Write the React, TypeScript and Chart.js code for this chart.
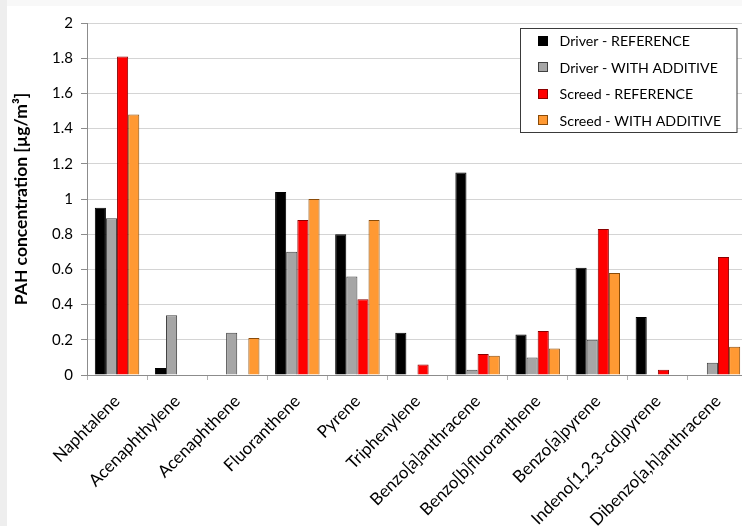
import React, { useEffect, useRef } from 'react';
import { Chart, registerables } from 'chart.js';

Chart.register(...registerables);

const categories = [
  'Naphtalene',
  'Acenaphthylene',
  'Acenaphthene',
  'Fluoranthene',
  'Pyrene',
  'Triphenylene',
  'Benzo[a]anthracene',
  'Benzo[b]fluoranthene',
  'Benzo[a]pyrene',
  'Indeno[1,2,3-cd]pyrene',
  'Dibenzo[a,h]anthracene',
];

const driverReference = [0.95, 0.04, 0, 1.04, 0.8, 0.24, 1.15, 0.23, 0.61, 0.33, 0];
const driverWithAdditive = [0.89, 0.34, 0.24, 0.7, 0.56, 0, 0.03, 0.1, 0.2, 0, 0.07];
const screedReference = [1.81, 0, 0, 0.88, 0.43, 0.06, 0.12, 0.25, 0.83, 0.03, 0.67];
const screedWithAdditive = [1.48, 0, 0.21, 1.0, 0.88, 0, 0.11, 0.15, 0.58, 0, 0.16];

const seriesLabels = [
  'Driver - REFERENCE',
  'Driver - WITH ADDITIVE',
  'Screed - REFERENCE',
  'Screed - WITH ADDITIVE',
];

const yTickValues = [0, 0.2, 0.4, 0.6, 0.8, 1, 1.2, 1.4, 1.6, 1.8, 2];
const yTickLabels = ['0', '0.2', '0.4', '0.6', '0.8', '1', '1.2', '1.4', '1.6', '1.8', '2'];
const yAxisTitle = 'PAH concentration [µg/m³]';

const FONT = 'Lato';
const FILLS = ['#000000', '#a6a6a6', '#ff0000', '#ff9933'];
const BORDERS = ['#000000', '#404040', '#8b0000', '#8a4b08'];

const CANVAS_W = 760;
const CANVAS_H = 540;

export default function App() {
  const canvasRef = useRef<HTMLCanvasElement | null>(null);

  useEffect(() => {
    const canvas = canvasRef.current;
    if (!canvas) return;

    const whiteBg = {
      id: 'whiteBg',
      beforeDraw(chart: any) {
        const ctx = chart.ctx;
        ctx.save();
        ctx.fillStyle = '#ffffff';
        ctx.fillRect(0, 0, chart.width, chart.height);
        ctx.restore();
      },
    };

    const boxLegend = {
      id: 'boxLegend',
      afterDraw(chart: any) {
        const ctx = chart.ctx;
        ctx.save();
        const x0 = 513.5;
        const y0 = 22.5;
        const w = 216.5;
        const h = 104;
        ctx.fillStyle = '#ffffff';
        ctx.fillRect(x0, y0, w, h);
        ctx.strokeStyle = '#3a3a3a';
        ctx.lineWidth = 1;
        ctx.strokeRect(x0, y0, w, h);
        ctx.font = `14.2px ${FONT}`;
        ctx.textBaseline = 'middle';
        ctx.textAlign = 'left';
        chart.data.datasets.forEach((ds: any, i: number) => {
          const cy = 34.7 + i * 26.5;
          ctx.fillStyle = ds.backgroundColor;
          ctx.fillRect(531, Math.round(cy) - 5, 10, 10);
          ctx.strokeStyle = ds.borderColor;
          ctx.strokeRect(531.5, Math.round(cy) - 4.5, 9, 9);
          ctx.fillStyle = '#000000';
          ctx.fillText(ds.label, 552.5, cy + 1);
        });
        ctx.restore();
      },
    };

    const seriesData = [driverReference, driverWithAdditive, screedReference, screedWithAdditive];

    const chart = new Chart(canvas, {
      type: 'bar',
      data: {
        labels: categories,
        datasets: seriesData.map((d, i) => ({
          label: seriesLabels[i],
          data: d,
          backgroundColor: FILLS[i],
          borderColor: BORDERS[i],
          borderWidth: 1,
          categoryPercentage: 0.74,
          barPercentage: 1.0,
        })),
      },
      plugins: [whiteBg, boxLegend],
      options: {
        responsive: false,
        animation: false,
        devicePixelRatio: 1,
        layout: { padding: { top: 11, right: 19, left: 0, bottom: 0 } },
        plugins: {
          legend: { display: false },
          tooltip: { enabled: false },
          title: { display: false },
        },
        scales: {
          x: {
            type: 'category',
            offset: true,
            afterFit: (scale: any) => {
              scale.height = 171;
            },
            grid: {
              offset: true,
              drawOnChartArea: false,
              drawTicks: true,
              tickLength: 5,
              color: '#b0b0b0',
            },
            border: { display: true, color: '#8c8c8c', width: 1 },
            ticks: {
              autoSkip: false,
              minRotation: 45,
              maxRotation: 45,
              padding: 11,
              color: '#000000',
              font: { family: FONT, size: 17 },
            },
          },
          y: {
            type: 'linear',
            min: 0,
            max: 2,
            afterFit: (scale: any) => {
              scale.width = 80;
            },
            afterBuildTicks: (scale: any) => {
              scale.ticks = yTickValues.map((v) => ({ value: v }));
            },
            grid: {
              color: '#d4d4d4',
              lineWidth: 1,
              drawTicks: true,
              tickLength: 6,
              tickColor: '#8c8c8c',
            },
            border: { display: true, color: '#8c8c8c', width: 1 },
            ticks: {
              padding: 8,
              color: '#000000',
              font: { family: FONT, size: 15 },
              callback: (value: any) => {
                const idx = yTickValues.findIndex((v) => Math.abs(v - Number(value)) < 1e-9);
                return idx >= 0 ? yTickLabels[idx] : '';
              },
            },
            title: {
              display: true,
              text: yAxisTitle,
              color: '#000000',
              font: { family: FONT, size: 17.5, weight: 'bold' },
              padding: { top: 4, bottom: 0 },
            },
          },
        },
      },
    });

    return () => {
      chart.destroy();
    };
  }, []);

  return (
    <div
      style={{
        position: 'fixed',
        left: 0,
        top: 0,
        width: 742,
        height: 526,
        overflow: 'hidden',
        background: '#eeeeee',
      }}
    >
      <div
        style={{
          position: 'absolute',
          left: 7,
          top: 0,
          width: 735,
          height: 6,
          background: '#f8f8f8',
        }}
      />
      <canvas
        ref={canvasRef}
        width={CANVAS_W}
        height={CANVAS_H}
        style={{
          position: 'absolute',
          left: 7,
          top: 6,
          width: CANVAS_W,
          height: CANVAS_H,
          display: 'block',
        }}
      />
    </div>
  );
}
